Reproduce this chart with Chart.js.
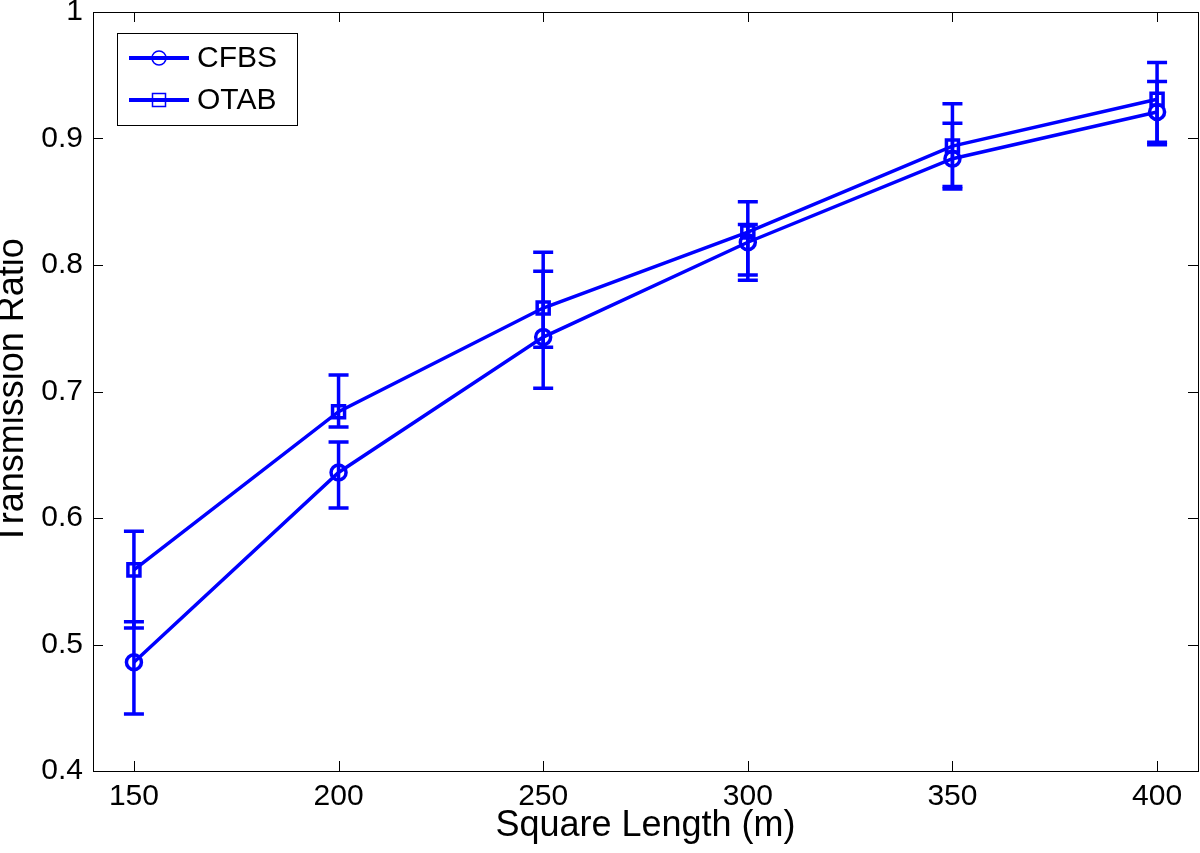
<!DOCTYPE html>
<html>
<head>
<meta charset="utf-8">
<script src="https://cdn.jsdelivr.net/npm/chart.js@4"></script>
<style>
  html, body { margin: 0; padding: 0; background: #fff; }
  #wrap { width: 1200px; height: 853px; }
</style>
</head>
<body>
<div id="wrap"><canvas id="c" width="1200" height="853"></canvas></div>
<script>
// ---- data ----
const squareLength = [150, 200, 250, 300, 350, 400];
const cfbsMean  = [0.486, 0.636, 0.743, 0.818, 0.884, 0.921];
const cfbsLower = [0.445, 0.608, 0.7025, 0.788, 0.860, 0.895];
const cfbsUpper = [0.518, 0.660, 0.795, 0.832, 0.912, 0.945];
const otabMean  = [0.559, 0.684, 0.766, 0.826, 0.894, 0.931];
const otabLower = [0.513, 0.672, 0.735, 0.792, 0.862, 0.897];
const otabUpper = [0.5895, 0.713, 0.810, 0.850, 0.9275, 0.960];
const xTicks = [150, 200, 250, 300, 350, 400];
const yTicks = [0.4, 0.5, 0.6, 0.7, 0.8, 0.9, 1.0];
const yTickLabels = ['0.4', '0.5', '0.6', '0.7', '0.8', '0.9', '1'];
const seriesNames = ['CFBS', 'OTAB'];

const BLUE = '#0000ff';
const FONT = '"Liberation Sans", Arial, Helvetica, sans-serif';

function pts(xs, ys) { return xs.map((v, i) => ({ x: v, y: ys[i] })); }

const errorBarPlugin = {
  id: 'errorBars',
  beforeDatasetsDraw(chart) {
    const { ctx, scales: { x, y } } = chart;
    ctx.save();
    chart.data.datasets.forEach(ds => {
      ctx.strokeStyle = ds.borderColor;
      ctx.lineWidth = 3.5;
      ctx.lineCap = 'butt';
      ds.data.forEach((p, i) => {
        const px = x.getPixelForValue(p.x);
        const pl = y.getPixelForValue(ds.errLower[i]);
        const pu = y.getPixelForValue(ds.errUpper[i]);
        const hw = 10;
        ctx.beginPath();
        ctx.moveTo(px, pl); ctx.lineTo(px, pu);
        ctx.moveTo(px - hw, pl); ctx.lineTo(px + hw, pl);
        ctx.moveTo(px - hw, pu); ctx.lineTo(px + hw, pu);
        ctx.stroke();
      });
    });
    ctx.restore();
  }
};

const boxPlugin = {
  id: 'matlabBox',
  beforeDatasetsDraw(chart) {
    const { ctx, chartArea: a, scales: { x, y } } = chart;
    ctx.save();
    ctx.strokeStyle = '#000';
    ctx.lineWidth = 1;
    ctx.strokeRect(Math.round(a.left) + 0.5, Math.round(a.top) + 0.5,
                   Math.round(a.right - a.left), Math.round(a.bottom - a.top));
    const tl = 10;
    ctx.beginPath();
    x.ticks.forEach(t => {
      const px = Math.round(x.getPixelForValue(t.value)) + 0.5;
      ctx.moveTo(px, a.bottom); ctx.lineTo(px, a.bottom - tl);
      ctx.moveTo(px, a.top); ctx.lineTo(px, a.top + tl);
    });
    y.ticks.forEach(t => {
      const py = Math.round(y.getPixelForValue(t.value)) + 0.5;
      ctx.moveTo(a.left, py); ctx.lineTo(a.left + tl, py);
      ctx.moveTo(a.right, py); ctx.lineTo(a.right - tl, py);
    });
    ctx.stroke();
    ctx.restore();
  }
};

const legendPlugin = {
  id: 'matlabLegend',
  afterDraw(chart) {
    const { ctx } = chart;
    const bx = 117.5, by = 33.5, bw = 180, bh = 92;
    ctx.save();
    ctx.fillStyle = '#fff';
    ctx.fillRect(bx, by, bw, bh);
    ctx.strokeStyle = '#000';
    ctx.lineWidth = 1;
    ctx.strokeRect(bx, by, bw, bh);
    const rows = [58, 100];
    chart.data.datasets.forEach((ds, i) => {
      const yy = rows[i];
      ctx.strokeStyle = ds.borderColor;
      ctx.lineWidth = 4;
      ctx.beginPath(); ctx.moveTo(129, yy); ctx.lineTo(189, yy); ctx.stroke();
      ctx.lineWidth = 1.5;
      ctx.beginPath();
      if (ds.pointStyle === 'circle') {
        ctx.arc(159, yy, 7, 0, Math.PI * 2);
      } else {
        ctx.rect(152.5, yy - 6.5, 13, 13);
      }
      ctx.stroke();
      ctx.fillStyle = '#000';
      ctx.font = '30px ' + FONT;
      ctx.textAlign = 'left';
      ctx.textBaseline = 'middle';
      ctx.fillText(ds.label, 197, yy + 1);
    });
    ctx.restore();
  }
};

new Chart(document.getElementById('c'), {
  type: 'line',
  data: {
    datasets: [
      {
        label: seriesNames[0],
        data: pts(squareLength, cfbsMean),
        errLower: cfbsLower, errUpper: cfbsUpper,
        borderColor: BLUE, borderWidth: 3.5,
        pointStyle: 'circle', pointRadius: 7.5, pointBorderWidth: 3.5,
        pointBorderColor: BLUE, pointBackgroundColor: 'rgba(0,0,0,0)',
        fill: false, tension: 0
      },
      {
        label: seriesNames[1],
        data: pts(squareLength, otabMean),
        errLower: otabLower, errUpper: otabUpper,
        borderColor: BLUE, borderWidth: 3.5,
        pointStyle: 'rect', pointRadius: 8.5, pointBorderWidth: 3.5,
        pointBorderColor: BLUE, pointBackgroundColor: 'rgba(0,0,0,0)',
        fill: false, tension: 0
      }
    ]
  },
  options: {
    responsive: false,
    animation: false,
    layout: { autoPadding: false, padding: { top: 12, right: 2, left: 0, bottom: 0 } },
    plugins: { legend: { display: false }, tooltip: { enabled: false } },
    scales: {
      x: {
        type: 'linear', min: 140, max: 410,
        afterBuildTicks: s => { s.ticks = xTicks.map(v => ({ value: v })); },
        afterFit: s => { s.height = 82; s.paddingLeft = 0; s.paddingRight = 0; },
        grid: { display: false, drawTicks: false },
        border: { display: false },
        ticks: {
          autoSkip: false, maxRotation: 0, padding: 8, color: '#000',
          font: { family: FONT, size: 30 },
          callback: v => String(v)
        },
        title: {
          display: true, text: 'Square Length (m)', color: '#000',
          font: { family: FONT, size: 36 }, padding: { top: 0, bottom: 5 }
        }
      },
      y: {
        type: 'linear', min: 0.4, max: 1,
        afterBuildTicks: s => { s.ticks = yTicks.map(v => ({ value: v })); },
        afterFit: s => { s.width = 93; s.paddingTop = 0; s.paddingBottom = 0; },
        grid: { display: false, drawTicks: false },
        border: { display: false },
        ticks: {
          autoSkip: false, padding: 10, color: '#000',
          font: { family: FONT, size: 30 },
          callback: v => { const i = yTicks.findIndex(t => Math.abs(t - v) < 1e-9); return i >= 0 ? yTickLabels[i] : ''; }
        },
        title: {
          display: true, text: 'Transmission Ratio', color: '#000',
          font: { family: FONT, size: 36, lineHeight: 0.75 }, padding: { top: 0, bottom: 0 }
        }
      }
    }
  },
  plugins: [boxPlugin, errorBarPlugin, legendPlugin]
});
</script>
</body>
</html>
